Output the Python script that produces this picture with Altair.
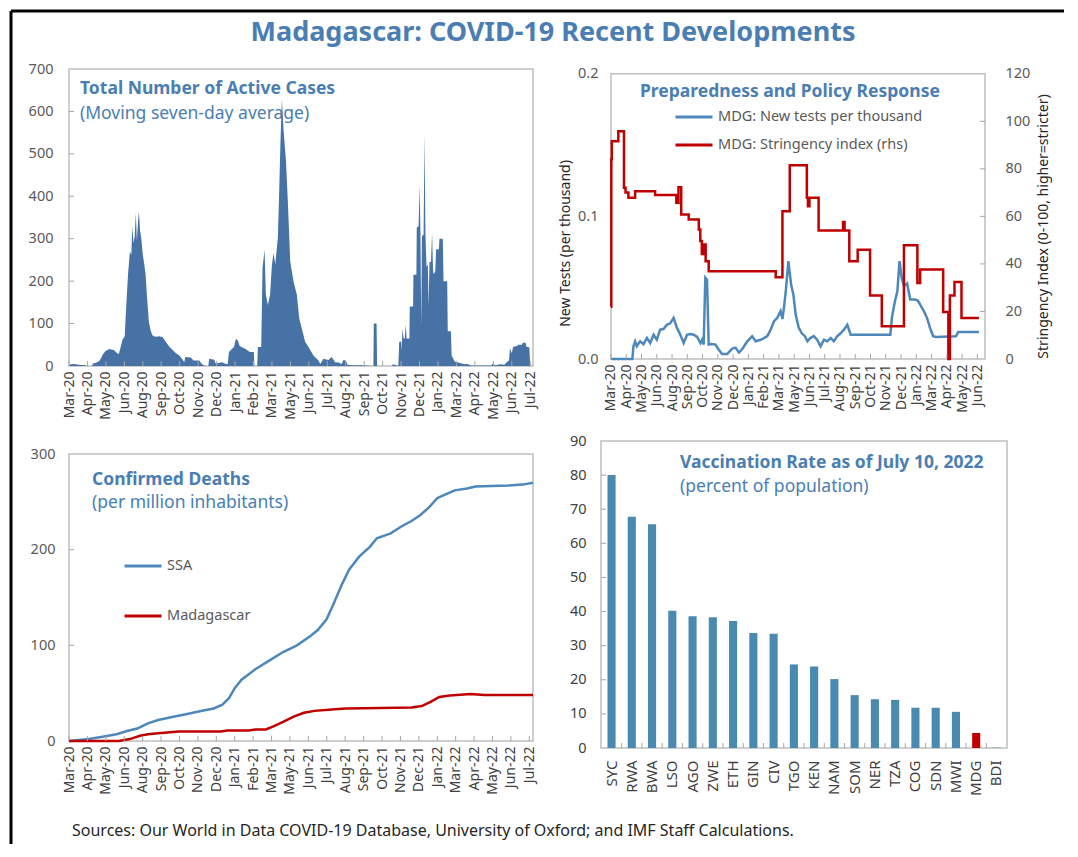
import altair as alt
import pandas as pd

FONT = "Noto Sans"
TITLE_BLUE = "#4a7eb3"
AREA_BLUE = "#4672a6"
LINE_BLUE = "#4e87ba"
BAR_BLUE = "#4a89b0"
RED = "#c00000"
FRAME = "#bfbfbf"
TICK = "#a6a6a6"
DARK = "#404040"
GRAY = "#595959"

# ---------------- tick labels ----------------
month_labels_26 = ["Mar-20", "Apr-20", "May-20", "Jun-20", "Aug-20", "Sep-20", "Oct-20", "Nov-20",
                   "Dec-20", "Jan-21", "Feb-21", "Mar-21", "May-21", "Jun-21", "Jul-21", "Aug-21",
                   "Sep-21", "Oct-21", "Nov-21", "Dec-21", "Jan-22", "Mar-22", "Apr-22", "May-22",
                   "Jun-22", "Jul-22"]
month_labels_25 = month_labels_26[:25]

# ---------------- panel 1: active cases (position in tick-label units) ----------------
active_pos = [0.0, 0.08, 0.3, 0.5, 0.9, 0.95, 1.25, 1.3, 1.5, 1.67,
              1.85, 2.0, 2.2, 2.45, 2.6, 2.7, 2.8, 2.9, 3.02, 3.1,
              3.2, 3.3, 3.38, 3.43, 3.5, 3.56, 3.62, 3.68, 3.74, 3.79,
              3.85, 3.92, 4.0, 4.08, 4.15, 4.22, 4.33, 4.42, 4.51, 4.6,
              4.72, 4.9, 5.08, 5.26, 5.45, 5.62, 5.8, 5.98, 6.1, 6.25,
              6.3, 6.6, 6.75, 7.06, 7.2, 7.3, 7.42, 7.55, 7.6, 7.87,
              7.95, 8.3, 8.5, 8.6, 8.67, 8.94, 9.05, 9.15, 9.25, 9.57,
              9.8, 10.02, 10.05, 10.2, 10.24, 10.42, 10.49, 10.6, 10.67, 10.78,
              10.9, 11.0, 11.09, 11.18, 11.32, 11.39, 11.46, 11.54, 11.63, 11.76,
              11.86, 11.99, 12.17, 12.35, 12.48, 12.62, 12.8, 12.98, 13.25, 13.52,
              13.62, 13.79, 14.06, 14.24, 14.42, 14.6, 14.78, 14.87, 15.0, 15.1,
              15.32, 15.86, 16.4, 16.5, 16.52, 16.67, 16.7, 17.5, 17.56, 17.74,
              17.85, 17.9, 18.0, 18.02, 18.08, 18.14, 18.2, 18.25, 18.3, 18.45,
              18.47, 18.65, 18.67, 18.83, 18.85, 18.95, 19.0, 19.05, 19.09, 19.13,
              19.22, 19.27, 19.32, 19.38, 19.45, 19.49, 19.54, 19.62, 19.68, 19.73,
              19.76, 19.85, 19.9, 20.05, 20.08, 20.26, 20.3, 20.5, 20.53, 20.7,
              20.74, 20.92, 21.1, 21.3, 21.43, 21.6, 21.79, 22.9, 22.96, 23.1,
              23.4, 23.6, 23.75, 23.85, 23.9, 24.0, 24.07, 24.3, 24.35, 24.55,
              24.6, 24.75, 24.8, 24.95, 25.0]
active_val = [0, 4, 5, 3, 2, 0, 0, 6, 8, 13,
              28, 36, 40, 37, 30, 28, 45, 62, 70, 140,
              216, 270, 262, 330, 290, 305, 360, 295, 340, 365,
              320, 300, 262, 240, 216, 168, 104, 85, 73, 70,
              69, 70, 68, 56, 45, 38, 30, 25, 18, 9,
              21, 20, 13, 13, 5, 2, 0, 0, 17, 15,
              6, 9, 5, 5, 33, 45, 64, 60, 47, 40,
              33, 33, 0, 0, 45, 45, 231, 274, 168, 144,
              168, 239, 266, 239, 302, 405, 524, 630, 555, 484,
              389, 247, 199, 168, 112, 88, 57, 45, 25, 13,
              5, 17, 14, 21, 9, 8, 5, 14, 13, 3,
              2, 2, 0, 0, 100, 100, 0, 0, 4, 2,
              0, 57, 57, 38, 88, 65, 65, 97, 65, 65,
              140, 140, 215, 215, 326, 330, 426, 310, 93, 306,
              310, 547, 310, 233, 240, 141, 245, 245, 313, 230,
              217, 222, 275, 275, 300, 300, 200, 200, 82, 82,
              24, 10, 8, 6, 4, 5, 1, 1, 6, 2,
              4, 3, 10, 13, 42, 30, 45, 48, 50, 50,
              55, 55, 45, 44, 0]

# ---------------- panel 2: tests and stringency ----------------
tests_pos = [0.0, 1.4, 1.47, 1.58, 1.69, 1.91, 2.13, 2.35, 2.57, 2.79,
             3.0, 3.22, 3.44, 3.66, 3.88, 4.1, 4.32, 4.54, 4.76, 4.98,
             5.2, 5.42, 5.64, 5.86, 5.97, 6.07, 6.18, 6.29, 6.4, 6.62,
             6.84, 7.06, 7.28, 7.61, 7.94, 8.16, 8.38, 8.6, 8.93, 9.25,
             9.47, 9.8, 10.02, 10.24, 10.46, 10.68, 10.89, 11.11, 11.23, 11.33,
             11.45, 11.62, 11.8, 11.95, 12.1, 12.3, 12.5, 12.7, 12.87, 13.06,
             13.29, 13.5, 13.73, 13.95, 14.17, 14.39, 14.6, 14.82, 15.04, 15.26,
             15.48, 15.7, 15.9, 18.3, 18.4, 18.6, 18.76, 18.9, 19.04, 19.2,
             19.4, 19.6, 19.9, 20.1, 20.5, 20.7, 20.9, 21.1, 21.3, 22.6,
             22.75, 24.1]
tests_val = [0, 0, 0.0089, 0.0124, 0.0089, 0.0124, 0.0103, 0.0147, 0.0112, 0.017,
             0.0135, 0.0206, 0.021, 0.024, 0.025, 0.0288, 0.0218, 0.017, 0.0112, 0.017,
             0.0175, 0.017, 0.0155, 0.0112, 0.0135, 0.0101, 0.0569, 0.0555, 0.0101, 0.0105,
             0.0101, 0.0065, 0.0035, 0.0035, 0.0073, 0.008, 0.0045, 0.007, 0.0124, 0.016,
             0.0124, 0.0135, 0.0147, 0.016, 0.0206, 0.0265, 0.0288, 0.0335, 0.028, 0.036,
             0.0475, 0.0686, 0.052, 0.045, 0.031, 0.0218, 0.018, 0.016, 0.0124, 0.0147,
             0.016, 0.0135, 0.0089, 0.0135, 0.0124, 0.0147, 0.0124, 0.016, 0.018, 0.0206,
             0.024, 0.017, 0.017, 0.017, 0.029, 0.0405, 0.0475, 0.0686, 0.057, 0.051,
             0.053, 0.0417, 0.0417, 0.041, 0.0335, 0.0288, 0.0218, 0.016, 0.0155, 0.016,
             0.019, 0.019]
stringency_pos = [0.0, 0.02, 0.05, 0.48, 0.85, 0.95, 1.14, 1.58, 2.89, 4.28,
                  4.42, 4.6, 5.09, 5.75, 5.85, 5.95, 6.05, 6.2, 6.4, 10.79,
                  11.23, 11.71, 12.83, 12.9, 13.0, 13.6, 15.2, 15.3, 15.61, 16.16,
                  16.97, 17.74, 19.19, 20.07, 20.25, 21.76, 22.1, 22.2, 22.5, 22.96,
                  24.1]
stringency_val = [22, 84, 91.6, 95.8, 72, 70, 67.8, 70.6, 69, 65.7,
                  72.3, 60.8, 58.7, 54.5, 49.6, 44.2, 48.2, 41.1, 36.9, 34.4,
                  62.2, 81.5, 67.8, 64.3, 67.8, 54.1, 57.6, 54.1, 41.1, 46,
                  26.7, 13.8, 47.9, 32, 37.6, 19.8, 0, 26.7, 32.4, 17.3,
                  17.3]

# ---------------- panel 3: confirmed deaths per million ----------------
ssa_pos = [0.0, 1.07, 1.83, 2.58, 3.15, 3.71, 4.28, 4.84, 5.6, 6.35,
           7.1, 7.86, 8.33, 8.7, 8.99, 9.37, 10.12, 10.87, 11.63, 12.38,
           13.13, 13.51, 13.98, 14.36, 14.83, 15.21, 15.77, 16.34, 16.72, 17.47,
           18.03, 18.6, 19.07, 19.54, 20.01, 20.48, 20.95, 21.61, 22.08, 22.93,
           23.87, 24.63, 25.2]
ssa_val = [0, 2, 4.5, 7, 10.5, 13, 18.5, 22, 25, 28,
           31, 34, 38, 45, 55, 64, 75, 84, 93, 100,
           110, 116, 127, 143, 164, 179, 193, 203, 212, 217,
           224, 230, 236, 244, 254, 258, 262, 264, 266, 266.5,
           267, 268, 270]
mdg_pos = [0.0, 2.7, 3.3, 3.86, 4.28, 4.84, 5.97, 8.24, 8.61, 9.75,
           10.12, 10.69, 11.07, 11.63, 12.2, 12.76, 13.33, 14.27, 15.02, 16.91,
           18.6, 19.16, 19.64, 20.11, 20.68, 21.81, 22.56, 25.2]
mdg_val = [0, 0, 2, 5.5, 7, 8, 10, 10, 11, 11,
           12, 12, 15, 20, 25.5, 29.5, 31.5, 33, 34, 34.5,
           35, 36.5, 41, 46, 47.5, 49, 48, 48]

# ---------------- panel 4: vaccination ----------------
countries = ["SYC", "RWA", "BWA", "LSO", "AGO", "ZWE", "ETH", "GIN", "CIV", "TGO",
             "KEN", "NAM", "SOM", "NER", "TZA", "COG", "SDN", "MWI", "MDG", "BDI"]
vaccinated = [80.0, 67.8, 65.6, 40.2, 38.6, 38.3, 37.2, 33.7, 33.5, 24.5,
              23.9, 20.2, 15.5, 14.3, 14.1, 11.8, 11.8, 10.6, 4.4, 0.1]

assert len(active_pos) == len(active_val)
assert len(tests_pos) == len(tests_val)
assert len(stringency_pos) == len(stringency_val)
assert len(ssa_pos) == len(ssa_val)
assert len(mdg_pos) == len(mdg_val)


def x_month(domain, labels):
    expr = "[" + ",".join("'%s'" % s for s in labels) + "][datum.value]"
    return alt.X("k:Q", scale=alt.Scale(domain=domain, nice=False, zero=False),
                 axis=alt.Axis(values=list(range(len(labels))), labelExpr=expr, labelAngle=270,
                               title=None, labelFontSize=14, labelColor=DARK, labelPadding=5,
                               ticks=False, domain=False, grid=False, labelOverlap=False,
                               labelFlush=False))


def y_quant(field, domain, values, orient="left", fmt="", title="", pad=14, color=GRAY,
            tpad=6, offset=0, title_y=None, title_x=None):
    kw = dict(values=values, orient=orient, labelFontSize=14.5, labelColor=color,
              labelPadding=pad, ticks=False, domain=False, grid=False)
    if offset:
        kw["offset"] = offset
    if fmt:
        kw["format"] = fmt
    if title:
        kw.update(title=title, titleFontSize=14, titleFontWeight="normal", titleColor="#262626",
                  titleFont=FONT, titlePadding=tpad)
        if title_y is not None:
            kw["titleY"] = title_y
        if title_x is not None:
            kw["titleX"] = title_x
            kw["titleBaseline"] = "middle"
            kw["titleAlign"] = "center"
        if orient == "right":
            kw["titleAngle"] = 270
    else:
        kw["title"] = None
    return alt.Y(field + ":Q", scale=alt.Scale(domain=domain, nice=False, zero=True),
                 axis=alt.Axis(**kw))


def text_layer(s, x, y, size, weight="normal", color=TITLE_BLUE, align="left"):
    return alt.Chart(alt.Data(values=[{}])).mark_text(
        text=s, font=FONT, fontSize=size, fontWeight=weight, color=color,
        align=align, baseline="middle").encode(x=alt.value(x), y=alt.value(y))


def tick_layer(n, xenc, h):
    return alt.Chart(pd.DataFrame({"k": list(range(n))})).mark_rule(
        color=TICK, strokeWidth=1).encode(x=xenc, y=alt.value(h), y2=alt.value(h - 5))


def ytick_layer(values, yenc, x0, x1):
    return alt.Chart(pd.DataFrame({"v": values})).mark_rule(
        color=TICK, strokeWidth=1).encode(y=yenc, x=alt.value(x0), x2=alt.value(x1))


def frame_layer(xenc, x_hi, yenc, y_hi):
    df = pd.DataFrame({"k": [0.0], "k2": [x_hi], "v": [0.0], "v2": [y_hi]})
    return alt.Chart(df).mark_rect(fillOpacity=0, stroke=FRAME, strokeWidth=1.5).encode(
        x=xenc, x2="k2:Q", y=yenc, y2="v2:Q")


VIEW_FRAME = alt.ViewBackground(stroke=FRAME, strokeWidth=1.5)
VIEW_NONE = alt.ViewBackground(stroke="transparent", strokeWidth=0)

# ---------------- Panel 1 ----------------
W1, H1 = 464, 297
x1 = x_month([0, 25.15], month_labels_26)
y1 = y_quant("v", [0, 700], list(range(0, 701, 100)), pad=16)
p1_df = pd.DataFrame({"k": active_pos, "v": active_val})
area1 = alt.Chart(p1_df).mark_area(color=AREA_BLUE, interpolate="linear").encode(x=x1, y=y1)
border_top = alt.Chart(alt.Data(values=[{}])).mark_rule(color="black", strokeWidth=3).encode(
    x=alt.value(-58), x2=alt.value(995), y=alt.value(-58))
border_left = alt.Chart(alt.Data(values=[{}])).mark_rule(color="black", strokeWidth=3).encode(
    x=alt.value(-58), y=alt.value(-58), y2=alt.value(775))
p1 = alt.layer(
    area1, tick_layer(26, x1, H1), ytick_layer([100, 200, 300, 400, 500, 600], y1, 0, 5),
    border_top, border_left,
    text_layer("Madagascar:  COVID-19 Recent Developments", 484, -36, 27, "bold", align="center"),
    text_layer("Total Number of Active Cases", 11, 20, 17.5, "bold"),
    text_layer("(Moving seven-day average)", 11, 45, 17.5),
).properties(width=W1, height=H1, view=VIEW_FRAME)

# ---------------- Panel 2 ----------------
# view spans 601..985 x 68..358; the framed plot area is 611..985 x 72.7..358
W2, H2 = 384, 290
X2_DOMAIN = [-0.655, 24.5]
Y2_LEFT = [0, 0.2033]
Y2_RIGHT = [0, 122]
x2 = x_month(X2_DOMAIN, month_labels_25)
TEST_LBL = "MDG: New tests per thousand"
STR_LBL = "MDG: Stringency index (rhs)"
p2_tests = pd.DataFrame({"k": tests_pos, "v": tests_val, "s": TEST_LBL})
p2_str = pd.DataFrame({"k": stringency_pos, "v": stringency_val, "s": STR_LBL})
color2 = alt.Color("s:N", scale=alt.Scale(domain=[TEST_LBL, STR_LBL], range=[LINE_BLUE, RED]),
                   legend=alt.Legend(title=None, orient="none", legendX=73, legendY=28,
                                     symbolType="stroke", symbolSize=1369, symbolStrokeWidth=3,
                                     labelFontSize=14.5, labelColor=GRAY, labelFont=FONT,
                                     labelLimit=400, rowPadding=1, labelOffset=4, padding=0))
tests_line = alt.Chart(p2_tests).mark_line(strokeWidth=2.5, interpolate="linear").encode(
    x=x2, y=y_quant("v", Y2_LEFT, [0, 0.1, 0.2], fmt=".1f", title="New Tests (per thousand)",
                    pad=13, tpad=5, offset=-10, title_y=174),
    color=color2)
str_line = alt.Chart(p2_str).mark_line(strokeWidth=2.5, interpolate="step-after").encode(
    x=x2, y=y_quant("v", Y2_RIGHT, list(range(0, 121, 20)), orient="right",
                    title="Stringency Index (0-100, higher=stricter)", pad=20, tpad=10,
                    title_y=157, title_x=58),
    color=color2)
y2_right_plain = alt.Y("v:Q", scale=alt.Scale(domain=Y2_RIGHT, nice=False, zero=True), axis=None)
frame2 = frame_layer(x2, 24.5, alt.Y("v:Q", scale=alt.Scale(domain=Y2_LEFT, nice=False, zero=True),
                                     axis=None), 0.2)
p2 = alt.layer(
    frame2, tests_line, str_line, tick_layer(25, x2, H2),
    ytick_layer([20, 40, 60, 80, 100], y2_right_plain, W2 - 5, W2),
    text_layer("Preparedness and Policy Response", 39, 23, 17.5, "bold"),
).resolve_scale(y="independent").properties(width=W2, height=H2, view=VIEW_NONE)

# ---------------- Panel 3 ----------------
# view spans 69..533 x 440..740; the framed plot area starts at 453
W3, H3 = 464, 300
x3 = x_month([0, 25.2], month_labels_26)
y3 = y_quant("v", [0, 313.6], [0, 100, 200, 300])
p3_df = pd.concat([
    pd.DataFrame({"k": ssa_pos, "v": ssa_val, "s": "SSA"}),
    pd.DataFrame({"k": mdg_pos, "v": mdg_val, "s": "Madagascar"}),
])
lines3 = alt.Chart(p3_df).mark_line(strokeWidth=2.5).encode(
    x=x3, y=y3,
    color=alt.Color("s:N", scale=alt.Scale(domain=["SSA", "Madagascar"], range=[LINE_BLUE, RED]),
                    legend=alt.Legend(title=None, orient="none", legendX=54, legendY=105,
                                      symbolType="stroke", symbolSize=1369, symbolStrokeWidth=3,
                                      labelFontSize=14.5, labelColor=GRAY, labelFont=FONT,
                                      labelLimit=400, rowPadding=23, labelOffset=4, padding=0)),
    detail="s:N")
p3 = alt.layer(
    frame_layer(x3, 25.2, y3, 300), lines3, tick_layer(26, x3, H3),
    ytick_layer([100, 200], y3, 0, 5),
    text_layer("Confirmed Deaths", 23, 39, 17.5, "bold"),
    text_layer("(per million inhabitants)", 23, 62, 17.5),
    text_layer("Sources: Our World in Data COVID-19 Database, University of Oxford; and IMF Staff Calculations.",
               3, 390, 16, color="#262626"),
).properties(width=W3, height=H3, view=VIEW_NONE)

# ---------------- Panel 4 ----------------
W4, H4 = 406, 307
P_INNER, P_OUTER = 0.6, 0.32
step4 = W4 / (len(countries) - P_INNER + 2 * P_OUTER)
x4 = alt.X("c:N", sort=countries, scale=alt.Scale(paddingInner=P_INNER, paddingOuter=P_OUTER),
           axis=alt.Axis(title=None, labelAngle=270, labelFontSize=15, labelColor=DARK,
                         labelPadding=12, ticks=False, domain=False, grid=False))
y4 = y_quant("v", [0, 90], list(range(0, 91, 10)), color=DARK, pad=15)
p4_df = pd.DataFrame({"c": countries, "v": vaccinated})
bars4 = alt.Chart(p4_df).mark_bar().encode(
    x=x4, y=y4,
    color=alt.condition(alt.datum.c == "MDG", alt.value(RED), alt.value(BAR_BLUE)))
cat_ticks = alt.Chart(pd.DataFrame({"c": countries[1:]})).mark_rule(
    color=TICK, strokeWidth=1, xOffset=-P_INNER * step4 / 2).encode(
    x=alt.X("c:N", sort=countries, bandPosition=0,
            scale=alt.Scale(paddingInner=P_INNER, paddingOuter=P_OUTER),
            axis=alt.Axis(title=None, labelAngle=270, labelFontSize=15, labelColor=DARK,
                          labelPadding=12, ticks=False, domain=False, grid=False)),
    y=alt.value(H4), y2=alt.value(H4 - 5))
p4 = alt.layer(
    bars4, cat_ticks, ytick_layer([10, 20, 30, 40, 50, 60, 70, 80], y4, 0, 5),
    text_layer("Vaccination  Rate as of July 10, 2022", 79, 22, 17.5, "bold"),
    text_layer("(percent of population)", 79, 46, 17.5),
).properties(width=W4, height=H4, view=VIEW_FRAME)

chart = alt.concat(
    p1, p2, p3, p4, columns=2, spacing={"row": 75, "column": 68}, bounds="flush"
).resolve_scale(color="independent").properties(padding=0, background="white").configure(
    font=FONT).configure_axis(labelFont=FONT, titleFont=FONT).configure_legend(labelFont=FONT)

chart.save("out.html", embed_options={"renderer": "svg", "actions": False})
